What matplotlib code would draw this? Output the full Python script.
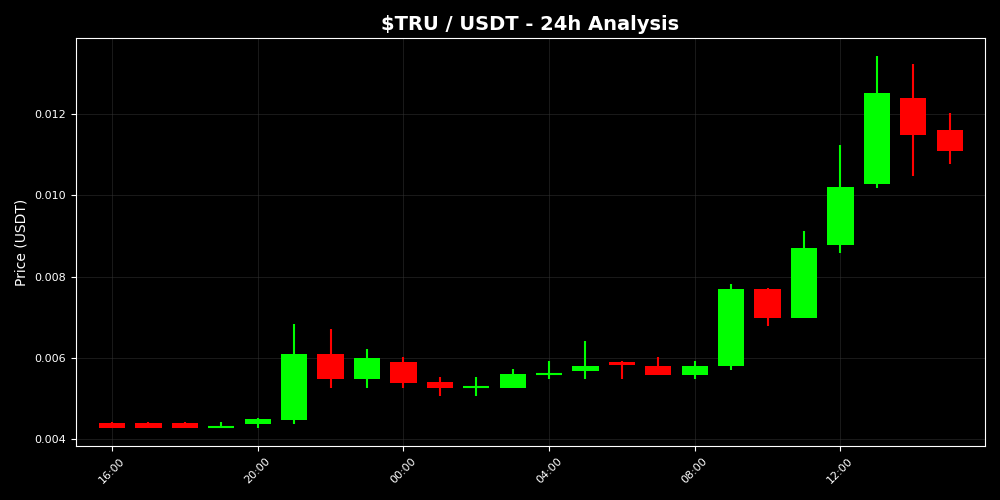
import numpy as np
import pandas as pd
import matplotlib
matplotlib.use("Agg")
import matplotlib.pyplot as plt
import matplotlib.dates as mdates

# hourly candles, 16:00 -> 15:00 next day
times = pd.date_range("2024-01-01 16:00", periods=24, freq="h")
opens = [0.00439, 0.00439, 0.00439, 0.00429, 0.00437, 0.00447, 0.00609, 0.00548,
         0.00590, 0.00540, 0.00528, 0.00526, 0.00559, 0.00567, 0.00590, 0.00580,
         0.00558, 0.00580, 0.00769, 0.00699, 0.00878, 0.01028, 0.01239, 0.01161]
closes = [0.00428, 0.00428, 0.00428, 0.00429, 0.00450, 0.00609, 0.00548, 0.00600,
          0.00538, 0.00526, 0.00528, 0.00560, 0.00559, 0.00580, 0.00583, 0.00558,
          0.00580, 0.00769, 0.00699, 0.00870, 0.01021, 0.01252, 0.01148, 0.01109]
highs = [0.00441, 0.00441, 0.00441, 0.00441, 0.00452, 0.00683, 0.00671, 0.00622,
         0.00602, 0.00553, 0.00553, 0.00572, 0.00592, 0.00641, 0.00592, 0.00602,
         0.00592, 0.00782, 0.00772, 0.00912, 0.01124, 0.01343, 0.01323, 0.01202]
lows = [0.00428, 0.00428, 0.00428, 0.00429, 0.00428, 0.00437, 0.00526, 0.00526,
        0.00526, 0.00506, 0.00506, 0.00526, 0.00548, 0.00548, 0.00548, 0.00558,
        0.00548, 0.00570, 0.00679, 0.00699, 0.00859, 0.01019, 0.01048, 0.01077]

up_color = "#00ff00"
down_color = "#ff0000"

fig = plt.figure(figsize=(10, 5), dpi=100, facecolor="black")
ax = fig.add_axes([0.076, 0.108, 0.909, 0.816])
ax.set_facecolor("black")

x = mdates.date2num(times)
width = 0.03  # days

for xi, o, c, h, l in zip(x, opens, closes, highs, lows):
    col = up_color if c >= o else down_color
    ax.vlines(xi, l, h, color=col, linewidth=1.5, zorder=2)
    body = abs(c - o)
    if body < 0.00004:
        # doji: draw a thin flat body
        ax.hlines(o, xi - width / 2, xi + width / 2, color=col, linewidth=1.5, zorder=3)
    else:
        ax.bar(xi, body, width=width, bottom=min(o, c), color=col, zorder=3)

ax.set_xlim(x[0] - 0.99 / 24, x[0] + 23.97 / 24)
ax.set_ylim(0.00383, 0.01387)

ax.xaxis.set_major_locator(mdates.HourLocator(byhour=range(0, 24, 4)))
ax.xaxis.set_major_formatter(mdates.DateFormatter("%H:%M"))
plt.setp(ax.get_xticklabels(), rotation=45)

ax.grid(True, color="#333333", linewidth=0.6, alpha=0.6)
ax.set_axisbelow(True)

ax.tick_params(colors="white", labelsize=8)
for s in ax.spines.values():
    s.set_color("white")

ax.set_ylabel("Price (USDT)", color="white", fontsize=10)
ax.set_title("\\$TRU / USDT - 24h Analysis", color="white", fontsize=14, fontweight="bold")

fig.savefig("out.png", facecolor="black")
